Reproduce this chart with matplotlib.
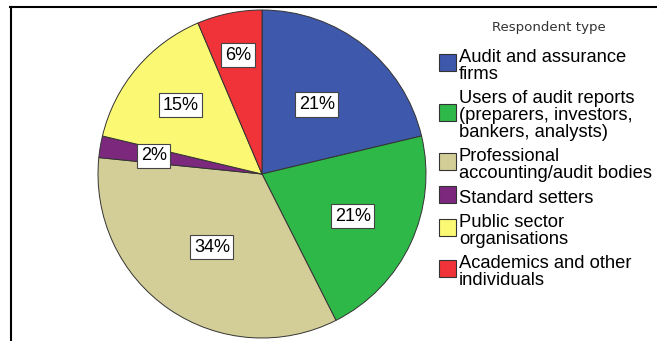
import numpy as np
import matplotlib
matplotlib.use('Agg')
import matplotlib.pyplot as plt
from matplotlib.lines import Line2D
from matplotlib.patches import Rectangle

# respondent counts (n = 47)
categories = ['Audit and assurance\nfirms',
              'Users of audit reports\n(preparers, investors,\nbankers, analysts)',
              'Professional\naccounting/audit bodies',
              'Standard setters',
              'Public sector\norganisations',
              'Academics and other\nindividuals']
counts = [10, 10, 16, 1, 7, 3]
colors = ['#3E58AC', '#2EB848', '#D3CE97', '#7C287D', '#FBF873', '#EF3338']
label_r = [0.54, 0.61, 0.54, 0.67, 0.65, 0.74]  # radial position of % boxes

W, H = 657, 341
fig = plt.figure(figsize=(W / 100, H / 100), dpi=100)
fig.patch.set_facecolor('white')

def fx(px):
    return px / W

def fy(py):
    return 1 - py / H

# pie axes: centre (262,174), radius 164 px
cx, cy, R = 262, 174, 164
ax = fig.add_axes([fx(cx - R), fy(cy + R), 2 * R / W, 2 * R / H])
wedges, texts, autotexts = ax.pie(
    counts, colors=colors, startangle=90, counterclock=False,
    autopct=lambda p: f'{p:.0f}%',
    wedgeprops=dict(edgecolor='#333333', linewidth=0.7),
    textprops=dict(family='Liberation Sans', fontsize=13, color='black'))
ax.set_xlim(-1, 1)
ax.set_ylim(-1, 1)
ax.set_aspect('auto')
ax.axis('off')

for w, t, r in zip(wedges, autotexts, label_r):
    a = np.deg2rad((w.theta1 + w.theta2) / 2)
    t.set_position((r * np.cos(a), r * np.sin(a)))
    t.set_ha('center')
    t.set_va('center')
    t.set_bbox(dict(boxstyle='square,pad=0.2', facecolor='white',
                    edgecolor='#444444', linewidth=0.8))

# frame lines (top and left)
lw = 1.5
fig.add_artist(Line2D([fx(10), 1], [fy(7), fy(7)], color='black', lw=lw,
                      transform=fig.transFigure))
fig.add_artist(Line2D([fx(11), fx(11)], [0, fy(7)], color='black', lw=lw,
                      transform=fig.transFigure))

# legend
fig.text(fx(549), fy(31), 'Respondent type', ha='center', va='baseline',
         family='DejaVu Sans', fontsize=9.6, color='#333333')

step, gap = 16.8, 24.5
base = 62
for lab, col in zip(categories, colors):
    lines = lab.split('\n')
    for i, ln in enumerate(lines):
        fig.text(fx(459), fy(base + i * step), ln, ha='left', va='baseline',
                 family='Liberation Sans', fontsize=13.2, color='black')
    mid = base + (len(lines) - 1) * step / 2 - 8
    fig.add_artist(Rectangle((fx(439), fy(mid + 8.5)), 17 / W, 17 / H,
                             facecolor=col, edgecolor='#333333', linewidth=0.8,
                             transform=fig.transFigure))
    base += (len(lines) - 1) * step + gap

fig.savefig('out.png', dpi=100)
